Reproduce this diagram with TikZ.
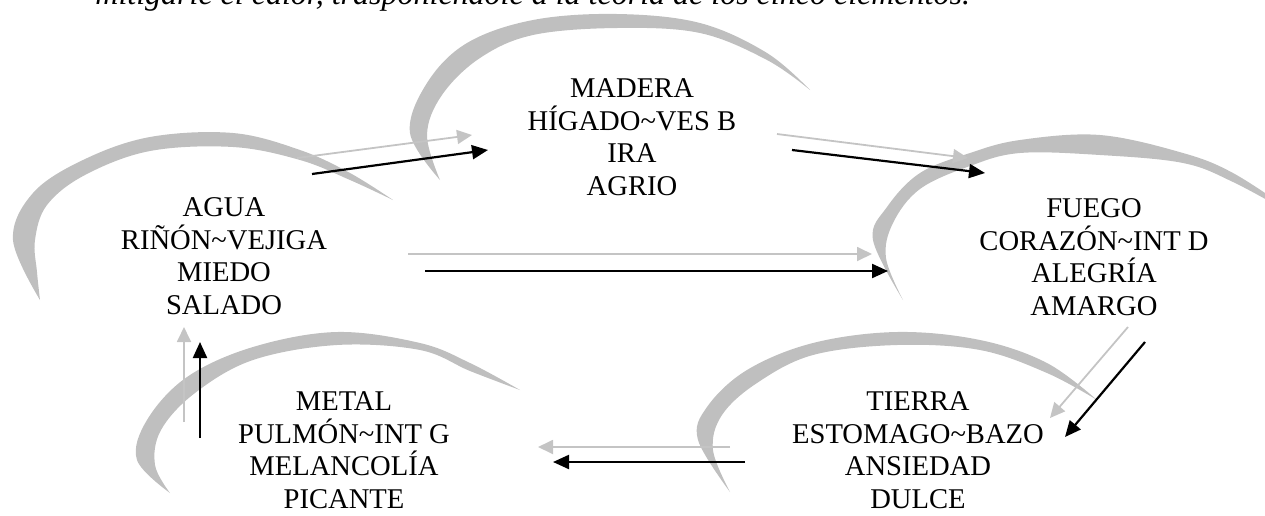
\documentclass[tikz,border=0pt]{standalone}
\usepackage{fontspec}
\setmainfont{Liberation Serif}
\usetikzlibrary{arrows.meta}
\definecolor{swooshgray}{RGB}{191,191,191}
\definecolor{arrowgray}{RGB}{196,196,196}
\begin{document}
\begin{tikzpicture}[x=0.5pt,y=-0.5pt,
  elem/.style={align=center,font=\fontsize{14.3}{16.25}\selectfont,inner sep=0pt},
  swoosh/.style={fill=swooshgray},
  lightarr/.style={draw=arrowgray,line width=0.9pt,-{Triangle[length=7.5pt,width=7pt]}},
  darkarr/.style={draw=black,line width=1.1pt,-{Triangle[length=8pt,width=7pt]}}]
\useasboundingbox (0,0) rectangle (1265,515);
% intro text (cut at the top)
\node[anchor=base west,inner sep=0pt,font=\itshape\fontsize{16}{18}\selectfont] (intro) at (95,4)
  {mitigarle el calor, trasponiéndole a la teoría de los cinco elementos.};
% swooshes
% AGUA
\fill[swoosh] plot[smooth,tension=0.6] coordinates {(40,300) (13,240) (33,193) (83,160) (150,137) (233,133) (300,150) (350,173) (393,200)}
  -- plot[smooth,tension=0.6] coordinates {(393,200) (350,180) (300,160) (233,147) (150,151) (85,175) (47,205) (35,240) (37,272) (40,300)} -- cycle;
% MADERA
\fill[swoosh] plot[smooth,tension=0.6] coordinates {(440,180) (410,133) (427,83) (467,43) (533,20) (617,14) (700,23) (767,53) (810,90)}
  -- plot[smooth,tension=0.6] coordinates {(810,90) (767,60) (700,33) (617,28) (533,35) (480,58) (442,95) (427,135) (440,180)} -- cycle;
% FUEGO
\fill[swoosh] plot[smooth,tension=0.6] coordinates {(903,300) (873,240) (887,207) (920,173) (970,153) (1020,140) (1100,135) (1183,153) (1233,173) (1290,210)}
  -- plot[smooth,tension=0.6] coordinates {(1290,213) (1233,182) (1183,163) (1100,155) (1020,153) (970,166) (920,189) (893,223) (886,258) (903,300)} -- cycle;
% TIERRA
\fill[swoosh] plot[smooth,tension=0.6] coordinates {(730,492) (698,440) (707,407) (747,370) (813,343) (897,332) (980,340) (1047,363) (1097,400)}
  -- plot[smooth,tension=0.6] coordinates {(1097,400) (1047,373) (980,350) (897,345) (813,355) (757,383) (722,415) (713,450) (730,492)} -- cycle;
% METAL
\fill[swoosh] plot[smooth,tension=0.6] coordinates {(170,493) (137,460) (147,420) (187,377) (253,347) (337,332) (420,343) (470,363) (520,390)}
  -- plot[smooth,tension=0.6] coordinates {(520,390) (470,371) (420,350) (337,345) (253,360) (195,393) (161,430) (155,465) (170,493)} -- cycle;
% element texts
\node[elem] (agua) at (224,256) {AGUA\\RIÑÓN\textasciitilde VEJIGA\\MIEDO\\SALADO};
\node[elem] (madera) at (632,137) {MADERA\\HÍGADO\textasciitilde VES B\\IRA\\AGRIO};
\node[elem] (fuego) at (1094,257) {FUEGO\\CORAZÓN\textasciitilde INT D\\ALEGRÍA\\AMARGO};
\node[elem] (tierra) at (918,450) {TIERRA\\ESTOMAGO\textasciitilde BAZO\\ANSIEDAD\\DULCE};
\node[elem] (metal) at (344,450) {METAL\\PULMÓN\textasciitilde INT G\\MELANCOLÍA\\PICANTE};
% arrow end points
\coordinate (a1gs) at (297,158); \coordinate (a1ge) at (472,135);
\coordinate (a1bs) at (312,174); \coordinate (a1be) at (488,150);
\coordinate (a2gs) at (777,134); \coordinate (a2ge) at (968,158);
\coordinate (a2bs) at (792,150); \coordinate (a2be) at (985,173);
\coordinate (a3gs) at (408,254); \coordinate (a3ge) at (872,254);
\coordinate (a3bs) at (425,271); \coordinate (a3be) at (888,271);
\coordinate (a4gs) at (1128,327); \coordinate (a4ge) at (1050,418);
\coordinate (a4bs) at (1145,342); \coordinate (a4be) at (1065,437);
\coordinate (a5gs) at (730,447); \coordinate (a5ge) at (538,447);
\coordinate (a5bs) at (745,462); \coordinate (a5be) at (553,462);
\coordinate (a6gs) at (184,422); \coordinate (a6ge) at (184,327);
\coordinate (a6bs) at (200,438); \coordinate (a6be) at (200,342);
% arrows
\draw[lightarr] (a1gs) -- (a1ge);
\draw[darkarr] (a1bs) -- (a1be);
\draw[lightarr] (a2gs) -- (a2ge);
\draw[darkarr] (a2bs) -- (a2be);
\draw[lightarr] (a3gs) -- (a3ge);
\draw[darkarr] (a3bs) -- (a3be);
\draw[lightarr] (a4gs) -- (a4ge);
\draw[darkarr] (a4bs) -- (a4be);
\draw[lightarr] (a5gs) -- (a5ge);
\draw[darkarr] (a5bs) -- (a5be);
\draw[lightarr] (a6gs) -- (a6ge);
\draw[darkarr] (a6bs) -- (a6be);
\end{tikzpicture}
\end{document}
